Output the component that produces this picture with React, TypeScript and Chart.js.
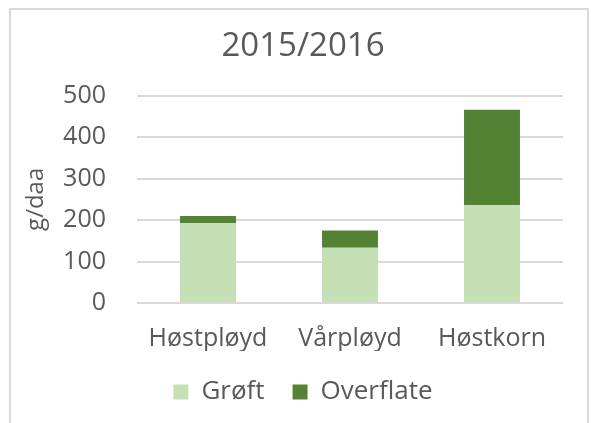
import React, { useEffect, useRef } from "react";
import { Chart, registerables } from "chart.js";

Chart.register(...registerables);

const categories = ["Høstpløyd", "Vårpløyd", "Høstkorn"];
const groftValues = [192, 133, 236];
const overflateValues = [18, 42, 230];
const seriesNames = ["Grøft", "Overflate"];
const yTicks = [0, 100, 200, 300, 400, 500];
const titleText = "2015/2016";
const yAxisTitle = "g/daa";

const FONT = "'Open Sans', 'Noto Sans', sans-serif";
const TEXT = "#595959";

export default function App() {
  const ref = useRef<HTMLCanvasElement | null>(null);

  useEffect(() => {
    if (!ref.current) return;
    const chart = new Chart(ref.current, {
      type: "bar",
      data: {
        labels: categories,
        datasets: [
          {
            label: seriesNames[0],
            data: groftValues,
            backgroundColor: "#c5e0b4",
            borderWidth: 0,
            categoryPercentage: 1,
            barPercentage: 0.394,
          },
          {
            label: seriesNames[1],
            data: overflateValues,
            backgroundColor: "#548235",
            borderWidth: 0,
            categoryPercentage: 1,
            barPercentage: 0.394,
          },
        ],
      },
      options: {
        responsive: false,
        animation: false,
        events: [],
        layout: { padding: { left: 32, right: 24, top: 0, bottom: 8 } },
        plugins: {
          title: {
            display: true,
            text: titleText,
            color: TEXT,
            font: { family: FONT, size: 33, weight: "normal" },
            padding: { top: 17, bottom: 29 },
          },
          legend: {
            position: "bottom",
            labels: {
              color: TEXT,
              font: { family: FONT, size: 26 },
              boxWidth: 15,
              boxHeight: 15,
              padding: 28,
            },
          },
          tooltip: { enabled: false },
        },
        scales: {
          x: {
            stacked: true,
            grid: { display: false, drawTicks: false },
            border: { display: false },
            ticks: {
              color: TEXT,
              font: { family: FONT, size: 25 },
              padding: 21,
              maxRotation: 0,
            },
            afterFit: (scale: any) => {
              scale.height = scale.height - 24;
            },
          },
          y: {
            stacked: true,
            min: 0,
            max: 500,
            afterBuildTicks: (scale: any) => {
              scale.ticks = yTicks.map((v) => ({ value: v }));
            },
            afterFit: (scale: any) => {
              scale.width = 94;
            },
            grid: { color: "#d9d9d9", lineWidth: 2, drawTicks: false },
            border: { display: false },
            ticks: {
              color: TEXT,
              font: { family: FONT, size: 25 },
              padding: 31,
            },
            title: {
              display: true,
              text: yAxisTitle,
              color: TEXT,
              font: { family: FONT, size: 24 },
              padding: { top: -21.4, bottom: 0 },
            },
          },
        },
      },
    });
    return () => chart.destroy();
  }, []);

  return (
    <div
      style={{
        position: "fixed",
        left: 9,
        top: 8,
        width: 580,
        height: 420,
        boxSizing: "border-box",
        borderTop: "2px solid #d9d9d9",
        borderLeft: "2px solid #d9d9d9",
        borderRight: "2px solid #d9d9d9",
        background: "#ffffff",
      }}
    >
      <canvas ref={ref} width={576} height={413} style={{ display: "block" }} />
    </div>
  );
}
